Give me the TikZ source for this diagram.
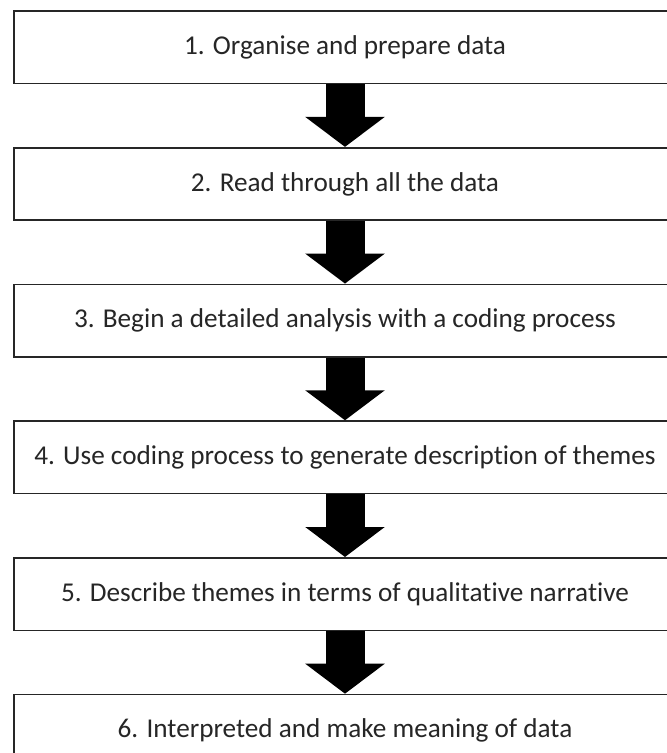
\documentclass[tikz,border=0pt]{standalone}
\usepackage{fontspec}
\setmainfont{Carlito}[Ligatures=NoCommon]
\usepackage{tikz}
\usetikzlibrary{arrows.meta, positioning}

\tikzset{
  stepbox/.style={draw=black!85, line width=1.6pt, fill=white, minimum width=662pt,
    minimum height=72.5pt, inner sep=0pt, text=black!85, font=\fontsize{27.2}{32}\selectfont},
  flowarrow/.style={line width=39pt, black, -{Triangle[width=78pt, length=30pt]}}
}

\begin{document}
\begin{tikzpicture}[x=1pt, y=1pt, node distance=62.6pt]
    \useasboundingbox (0,0) rectangle (667,-753);
    \clip (0,0) rectangle (667,-753);

    % Steps
    \node[stepbox] (s1) at (345,-47.25) {1. Organise and prepare data};
    \node[stepbox, below=of s1] (s2) {2. Read through all the data};
    \node[stepbox, below=of s2] (s3) {3. Begin a detailed analysis with a coding process};
    \node[stepbox, below=of s3] (s4) {4. Use coding process to generate description of themes};
    \node[stepbox, below=of s4] (s5) {5. Describe themes in terms of qualitative narrative};
    \node[stepbox, below=of s5] (s6) {6. Interpreted and make meaning of data};

    % Arrows
    \foreach \a/\b in {s1/s2, s2/s3, s3/s4, s4/s5, s5/s6}
        \draw[flowarrow] (\a) -- (\b);
\end{tikzpicture}
\end{document}
